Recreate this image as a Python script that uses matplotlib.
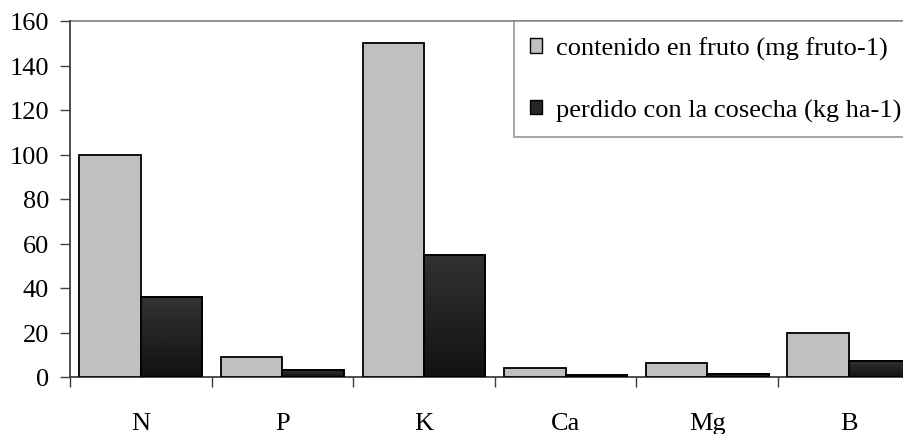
import numpy as np
import matplotlib
matplotlib.use("Agg")
import matplotlib.pyplot as plt
from matplotlib.patches import Patch

plt.rcParams["font.family"] = ["Liberation Serif", "DejaVu Serif"]

# Nutrient data
nutrients = ["N", "P", "K", "Ca", "Mg", "B"]
contenido = [100, 9, 150, 4, 6.5, 20]
perdido = [36, 3, 55, 1, 1.5, 7.3]
labels = ["contenido en fruto (mg fruto-1)", "perdido con la cosecha (kg ha-1)"]

fig = plt.figure(figsize=(9.04, 4.35), dpi=100)
ax = fig.add_axes([70 / 904, 1 - 378 / 435, 849.6 / 904, 356 / 435])

x = np.arange(len(nutrients))
w = 0.433

ax.bar(x - w / 2, contenido, width=w, color="#c0c0c0", edgecolor="black", linewidth=1.3, zorder=3)
dark = ax.bar(x + w / 2, perdido, width=w, color="#222222", edgecolor="black", linewidth=1.3, zorder=3)

# vertical gradient inside the dark bars
grad = np.linspace(0.2, 0.07, 256).reshape(-1, 1)
for b in dark:
    bx, by = b.get_x(), b.get_y()
    bw, bh = b.get_width(), b.get_height()
    im = ax.imshow(grad, cmap="gray", vmin=0, vmax=1, aspect="auto",
                   extent=[bx, bx + bw, by, by + bh], origin="upper", zorder=3.5)
    im.set_clip_path(b)
    ax.add_patch(plt.Rectangle((bx, by), bw, bh, fill=False, edgecolor="black",
                               linewidth=1.3, zorder=4))

ax.set_xlim(-0.5, len(nutrients) - 0.5)
ax.set_ylim(0, 160)
ax.set_yticks(range(0, 161, 20))
ax.axhline(160, color="#808080", linewidth=1.2, zorder=1, clip_on=False)

ax.set_xticks(x)
ax.set_xticklabels(nutrients)
ax.set_xticks(np.arange(-0.5, len(nutrients), 1), minor=True)
ax.tick_params(axis="x", which="major", length=0, pad=25, labelsize=19)
ax.tick_params(axis="x", which="minor", length=7, width=1, color="#404040")
ax.tick_params(axis="y", length=7, width=1, color="#404040", labelsize=19, pad=8)

for s in ["top", "right"]:
    ax.spines[s].set_visible(False)
for s in ["left", "bottom"]:
    ax.spines[s].set_color("#404040")
    ax.spines[s].set_linewidth(1.3)

handles = [Patch(facecolor="#c0c0c0", edgecolor="black", linewidth=1),
           Patch(facecolor="#262626", edgecolor="black", linewidth=1)]
leg = fig.legend(handles, labels, loc="upper left", bbox_to_anchor=(514 / 904, 1 - 22 / 435),
                 fontsize=19, frameon=True, fancybox=False, edgecolor="#808080",
                 handlelength=0.46, handleheight=0.46, handletextpad=0.55,
                 labelspacing=1.45, borderpad=0.6, borderaxespad=0)
leg.get_frame().set_linewidth(1.2)

fig.savefig("out.png", dpi=100)
